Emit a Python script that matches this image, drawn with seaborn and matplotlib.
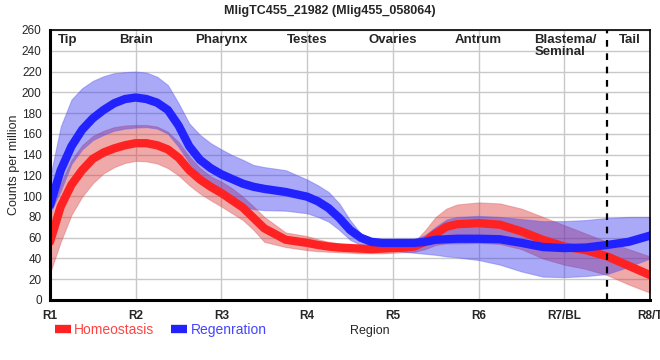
import numpy as np
import pandas as pd
import matplotlib
matplotlib.use("Agg")
import matplotlib.pyplot as plt
import seaborn as sns
from matplotlib.lines import Line2D

# x positions along the body, R1 = 0 ... R8/T = 7 (finer where the curves bend)
pos = [0, 0.125, 0.25, 0.375, 0.5, 0.625, 0.75, 0.875, 1, 1.125, 1.25, 1.375, 1.5,
       1.625, 1.75, 1.875, 2, 2.125, 2.25, 2.375, 2.5, 2.75, 3, 3.125, 3.25, 3.375,
       3.5, 3.625, 3.75, 3.875, 4, 4.125, 4.25, 4.375, 4.5, 4.625, 4.75, 5, 5.25,
       5.5, 5.75, 6, 6.25, 6.5, 6.75, 7]

hom_mean = [56, 90, 111, 125, 136, 142, 146, 149, 151, 151, 149, 145, 137,
            125, 116, 109, 103, 96, 89, 79, 69, 58, 55, 53, 51.5, 50.5,
            50, 49.5, 49, 49.5, 50, 50.5, 51.5, 56, 64, 70.5, 73, 74, 72.5,
            66, 58, 51.5, 48, 42, 33, 24]
hom_hi = [80, 112, 135, 149, 158, 163, 166.5, 168, 168.5, 168.5, 167, 162, 152,
          138, 127, 119, 114, 107.5, 99.5, 90, 80, 65, 61.5, 58.5, 56, 54.5,
          53, 52.5, 52, 52.5, 53, 54, 56, 67, 80, 88, 92, 94, 93,
          88, 80, 72, 64, 56, 49, 42]
hom_lo = [26, 56, 82, 99.5, 112.5, 122, 128, 132, 134, 133.5, 131.5, 127, 120,
          110.5, 102.5, 96, 90, 83.5, 77, 67.5, 56, 51, 48, 47, 46.5, 46,
          45.5, 45, 45, 45, 45.5, 46, 46.5, 49, 53, 54.5, 54.5, 55, 54,
          49, 40, 34, 30, 24, 15, 7]

reg_mean = [91, 125, 148, 164, 175, 183, 189.5, 193.5, 195, 193.5, 190, 183, 168,
            148, 135, 127, 121, 116.5, 112, 109, 107, 104, 99.5, 95, 88.5, 79,
            67.5, 60, 56, 55, 55, 55, 55, 56, 58, 58.5, 59, 59, 58.5,
            55, 51, 50, 50.5, 53, 56, 62]
reg_hi = [118, 167, 193, 204, 211, 215.5, 218.5, 219.5, 220, 219, 215, 207, 189.5,
          170, 159, 151, 145, 139.5, 135, 130, 128, 125, 116, 110.5, 104, 93,
          77, 64, 58.5, 58, 58, 58, 58.5, 62.5, 70.5, 77.5, 80, 81, 80,
          78, 76, 76, 77, 79, 80, 80]
reg_lo = [84, 105, 131, 145, 154, 159, 163, 165, 166, 166.5, 165, 160, 147.5,
          132, 120, 109, 101, 94.5, 90, 87.5, 86.5, 86, 83.5, 80, 75.5, 67.5,
          58, 53, 51.5, 50, 47.5, 46.5, 45.5, 44.5, 43.5, 42, 41, 38.5, 34,
          27.5, 22.5, 22, 23, 25, 32, 40]

tick_labels = ["R1", "R2", "R3", "R4", "R5", "R6", "R7/BL", "R8/T"]
regions = ["Tip", "Brain", "Pharynx", "Testes", "Ovaries", "Antrum", "Blastema/\nSeminal", "Tail"]
region_pos = [0.21, 1, 2, 3, 4, 5, 5.65, 6.77]

red = "#ff2222"
blue = "#2222ff"

sns.set_style("white")
plt.rcParams['font.family'] = ['Liberation Sans', 'DejaVu Sans']

df = pd.DataFrame({
    "pos": pos * 2,
    "value": hom_mean + reg_mean,
    "group": ["Homeostasis"] * len(pos) + ["Regenration"] * len(pos),
})

fig = plt.figure(figsize=(6.6, 3.6), dpi=100)
ax = fig.add_axes([50 / 660, 60 / 360, 600 / 660, 270 / 360])

ax.fill_between(pos, hom_lo, hom_hi, color="#dd3333", alpha=0.42, lw=0.8, edgecolor="#e06060")
ax.fill_between(pos, reg_lo, reg_hi, color="#3333ee", alpha=0.42, lw=0.8, edgecolor="#6060ee")
sns.lineplot(data=df, x="pos", y="value", hue="group", palette=[red, blue],
             linewidth=6, ax=ax, legend=False)
for ln in ax.get_lines():
    ln.set_solid_joinstyle("round")

ax.axvline(6.5, color="black", ls=(0, (3, 3)), lw=1.6)

ax.set_xlim(0, 7)
ax.set_ylim(0, 260)
ax.set_xticks(range(8))
ax.set_xticklabels(tick_labels, fontweight="bold", fontsize=8.5)
ax.set_yticks(range(0, 261, 20))
ax.tick_params(axis="y", labelsize=8.5, length=4, width=1, pad=2)
ax.tick_params(axis="x", length=4, width=1, pad=3)
ax.grid(True, color="#c8c8c8", lw=1)
ax.set_axisbelow(True)

for side in ["left", "bottom"]:
    ax.spines[side].set_linewidth(2.2)
for side in ["top", "right"]:
    ax.spines[side].set_linewidth(1.2)
for s in ax.spines.values():
    s.set_color("black")

for r, p in zip(regions, region_pos):
    if "\n" in r:
        ax.text(p, 256, r, ha="left", va="top", fontweight="bold", fontsize=9.5,
                linespacing=1.0)
    else:
        ax.text(p, 256, r, ha="center", va="top", fontweight="bold", fontsize=9.5)

ax.set_xlabel("")
ax.set_ylabel("Counts per million", fontsize=9)
ax.yaxis.set_label_coords(-0.05, 0.5)
fig.text(350 / 660, 1 - 331 / 360, "Region", ha="left", va="center", fontsize=9)
fig.suptitle("MligTC455_21982 (Mlig455_058064)", fontweight="bold", fontsize=9, y=0.985)

handles = [Line2D([], [], color=red, lw=6, solid_capstyle="butt"),
           Line2D([], [], color=blue, lw=6, solid_capstyle="butt")]
leg = ax.legend(handles, ["Homeostasis", "Regenration"], loc="upper left",
                bbox_to_anchor=(0.008, -0.084), ncol=2, frameon=False, fontsize=10,
                handlelength=1.15, handletextpad=0.25, columnspacing=1.2,
                borderaxespad=0, borderpad=0)
for txt, c in zip(leg.get_texts(), ["#ff4444", "#4444ff"]):
    txt.set_color(c)

fig.savefig("out.png", dpi=100)
